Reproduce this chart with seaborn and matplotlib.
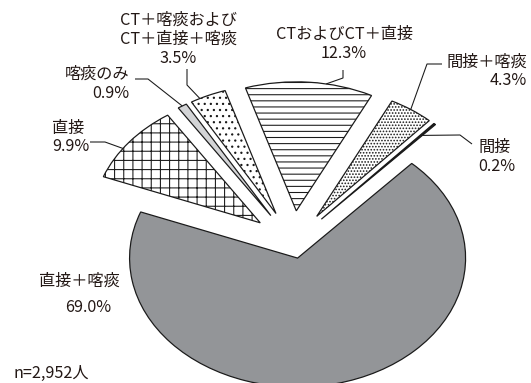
import numpy as np
import matplotlib
matplotlib.use("Agg")
import matplotlib.pyplot as plt
import seaborn as sns

# Breakdown of examination combinations (share of patients, %)
categories = ["直接＋喀痰", "直接", "喀痰のみ", "CT＋喀痰および\nCT＋直接＋喀痰",
              "CTおよびCT＋直接", "間接＋喀痰", "間接"]
shares = [69.0, 9.9, 0.9, 3.5, 12.3, 4.3, 0.2]
n_total = "2,952"

sns.set_theme(style="white")
plt.rcParams["font.family"] = ["Noto Sans CJK JP", "DejaVu Sans"]
plt.rcParams["hatch.linewidth"] = 0.7
plt.rcParams["hatch.color"] = "#1a1a1a"

DPI = 110
W, H = 531, 383
CX, CY = 293, 243      # pie centre in pixels
RX, RY = 168, 129      # horizontal / vertical pie radius in pixels

fig = plt.figure(figsize=(W / DPI, H / DPI), dpi=DPI)
ax = fig.add_axes([0, 0, 1, 1])

faces = ["#939598", "white", "#d3d4d6", "white", "white", "white", "#1a1a1a"]
hatches = ["", "++", "", "...", "---", "......", ""]
explode = [0.12, 0.25, 0.25, 0.25, 0.25, 0.25, 0.25]

wedges, _ = ax.pie(shares, explode=explode, startangle=47.2, counterclock=False,
                   colors=faces, normalize=True,
                   wedgeprops=dict(edgecolor="#1a1a1a", linewidth=0.8))
for w, h in zip(wedges, hatches):
    w.set_hatch(h)

ax.set_aspect("auto")
ax.set_xlim(-CX / RX, (W - CX) / RX)
ax.set_ylim(-(H - CY) / RY, CY / RY)
ax.axis("off")


def px(x, y):
    """Pixel position (from top-left) to data coordinates."""
    return (x - CX) / RX, (CY - y) / RY


def arc_point(w, frac, rfrac=1.0):
    t = np.deg2rad(w.theta1 + frac * (w.theta2 - w.theta1))
    cx, cy = w.center
    return cx + w.r * rfrac * np.cos(t), cy + w.r * rfrac * np.sin(t)


TXT = "#231815"
FS = 10.6

# labels: (wedge index, text, anchor px, ha, leader elbow pixels, arc fraction, radial fraction)
labels = [
    (3, f"{categories[3]}\n{shares[3]:.1f}%", (178, 39.5), "center",
     [(187, 69), (187, 85)], 0.74, 1.0),
    (2, f"{categories[2]}\n{shares[2]:.1f}%", (129, 84), "right",
     [(135, 79), (148, 79)], 0.5, 1.0),
    (1, f"{categories[1]}\n{shares[1]:.1f}%", (52, 137.5), "left",
     [(90, 142), (105, 142)], 0.6, 1.0),
    (4, f"{categories[4]}\n{shares[4]:.1f}%", (344, 44), "center",
     [(343, 70), (343, 78)], 0.37, 1.0),
    (5, f"{categories[5]}\n{shares[5]:.1f}%", (527, 71.5), "right",
     [(442, 64), (427, 64)], 0.52, 1.0),
    (6, f"{categories[6]}\n{shares[6]:.1f}%", (478, 157), "left",
     [(472, 144), (460, 135)], 0.5, 0.88),
]

for idx, text, (tx, ty), ha, elbow, frac, rfrac in labels:
    ax.text(*px(tx, ty), text, ha=ha, va="center", fontsize=FS, color=TXT,
            linespacing=1.15, multialignment=ha)
    pts = [px(*p) for p in elbow] + [arc_point(wedges[idx], frac, rfrac)]
    xs, ys = zip(*pts)
    ax.plot(xs, ys, color="#1a1a1a", lw=0.7, solid_capstyle="butt")

# largest share, labelled without leader
ax.text(*px(79, 281), categories[0], ha="center", va="center", fontsize=FS, color=TXT)
ax.text(*px(88, 308), f"{shares[0]:.1f}%", ha="center", va="center", fontsize=FS, color=TXT)

ax.text(*px(13, 373), f"n={n_total}人", ha="left", va="center", fontsize=FS, color=TXT)

fig.savefig("out.png", dpi=DPI)
